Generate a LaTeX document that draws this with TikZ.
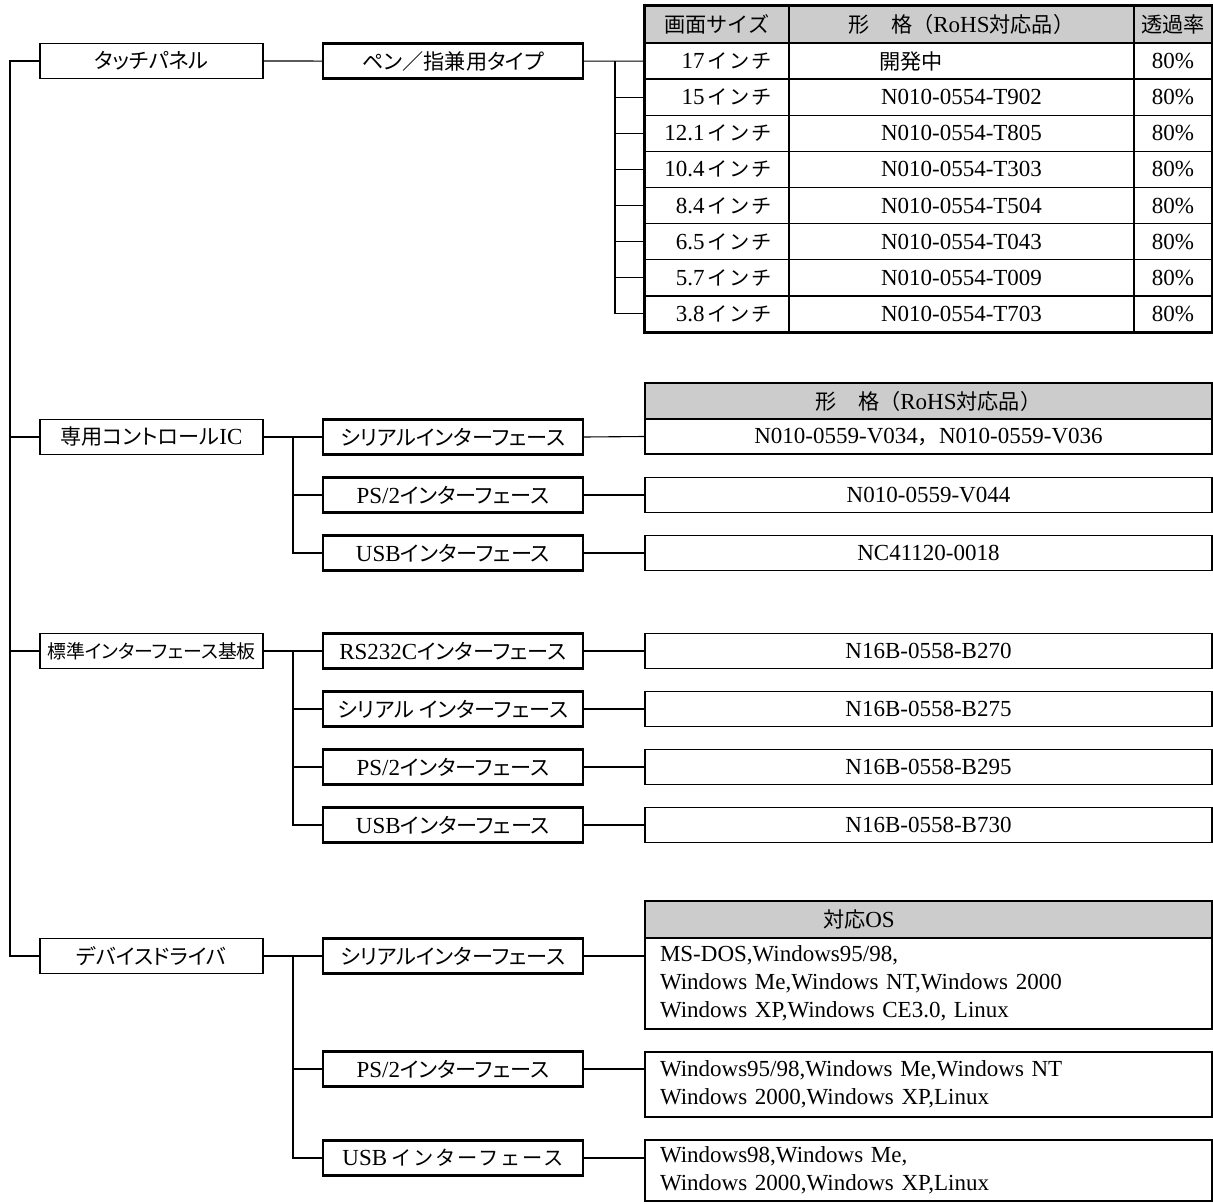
\documentclass[tikz,border=0pt]{standalone}
\usepackage{fontspec}
\setmainfont{Liberation Serif}
\newfontfamily\jp[RawFeature=+palt,Scale=0.92]{Noto Sans CJK JP}
\newfontfamily\jpf[Scale=0.92]{Noto Sans CJK JP}
\newfontfamily\jpw[Scale=0.88,LetterSpace=9]{Noto Sans CJK JP}
\newcommand{\J}[1]{{\jp #1}}
\newcommand{\JF}[1]{{\jpf #1}}
\newcommand{\JW}[1]{{\jpw #1}}
\definecolor{hdrgray}{RGB}{204,204,204}
\begin{document}
\begin{tikzpicture}[x=1pt,y=-1pt,
  every node/.style={font=\fontsize{23}{28}\selectfont},
  boxA/.style={draw, line width=1.1pt, minimum width=223pt, minimum height=35pt, inner sep=0pt},
  boxB/.style={draw, line width=2.4pt, minimum width=260pt, minimum height=35pt, inner sep=0pt},
  tcell/.style={draw, line width=1.3pt, inner sep=0pt},
  hdr/.style={draw, line width=1.8pt, fill=hdrgray, inner sep=0pt},
  outbox/.style={draw, line width=1.8pt, minimum width=567pt, minimum height=35pt, inner sep=0pt},
  osbox/.style={draw, line width=1.8pt, minimum width=567pt, text width=537pt, inner xsep=15pt, inner ysep=0pt, align=left},
  conn/.style={line width=1.1pt}]
\useasboundingbox (0,0) rectangle (1213,1204);

% level 1
\node[boxA] (tp)  at (151.5,61)  {\J{タッチパネル}};
\node[boxA] (ic)  at (151.5,437) {\J{専用コントロール}IC};
\node[boxA, font=\fontsize{20.5}{24}\selectfont] (std) at (151.5,651) {\J{標準インターフェース基板}};
\node[boxA] (dd)  at (151.5,956) {\J{デバイスドライバ}};

% level 2
\node[boxB] (pen) at (453,61.06) {\J{ペン／指兼用タイプ}};
\node[boxB] (ic1) at (453,437) {\J{シリアルインターフェース}};
\node[boxB] (ic2) at (453,495) {PS/2\J{インターフェース}};
\node[boxB] (ic3) at (453,553) {USB\J{インターフェース}};
\node[boxB] (s1) at (453,651) {RS232C\J{インターフェース}};
\node[boxB] (s2) at (453,709) {\J{シリアル インターフェース}};
\node[boxB] (s3) at (453,767) {PS/2\J{インターフェース}};
\node[boxB] (s4) at (453,825) {USB\J{インターフェース}};
\node[boxB] (d1) at (453,956) {\J{シリアルインターフェース}};
\node[boxB] (d2) at (453,1069) {PS/2\J{インターフェース}};
\node[boxB] (d3) at (453,1158) {USB\hspace{4pt}\JW{インターフェース}};

% table 1
\node[hdr, minimum width=144pt, minimum height=37pt] (h1) at (717,24.5) {\JF{画面サイズ}};
\node[hdr, minimum width=345pt, minimum height=37pt] (h2) at (961.5,24.5) {\JF{形　格（}RoHS\JF{対応品）}};
\node[hdr, minimum width=78pt, minimum height=37pt] (h3) at (1173,24.5) {\JF{透過率}};
\foreach \i/\sz in {1/17,2/15,3/12.1,4/10.4,5/8.4,6/6.5,7/5.7,8/3.8}{
  \pgfmathsetmacro\yy{43+(\i-0.5)*36.125}
  \node[tcell, minimum width=144pt, minimum height=36.125pt, text width=110pt, inner xsep=17pt, align=right] (a\i) at (717,\yy) {\sz\hspace{3pt}\JW{インチ}};
  \node[tcell, minimum width=78pt, minimum height=36.125pt] (c\i) at (1173,\yy) {80\%};
}
\node[tcell, minimum width=345pt, minimum height=36.125pt, text width=165pt, inner xsep=90pt, align=left] (b1) at (961.5,61.06) {\JF{開発中}};
\foreach \i/\code in {2/T902,3/T805,4/T303,5/T504,6/T043,7/T009,8/T703}{
  \pgfmathsetmacro\yy{43+(\i-0.5)*36.125}
  \node[tcell, minimum width=345pt, minimum height=36.125pt] (b\i) at (961.5,\yy) {N010-0554-\code};
}
\draw[line width=2pt] (h1.north west) rectangle (c8.south east);

% table 2
\node[hdr, minimum width=567pt, minimum height=36pt] (kh) at (928.5,401) {\JF{形　格（}RoHS\JF{対応品）}};
\node[outbox] (k1) at (928.5,436.5) {N010-0559-V034\JF{，}N010-0559-V036};
\node[outbox] (k2) at (928.5,495) {N010-0559-V044};
\node[outbox] (k3) at (928.5,553) {NC41120-0018};

\node[outbox] (o1) at (928.5,651) {N16B-0558-B270};
\node[outbox] (o2) at (928.5,709) {N16B-0558-B275};
\node[outbox] (o3) at (928.5,767) {N16B-0558-B295};
\node[outbox] (o4) at (928.5,825) {N16B-0558-B730};

\node[hdr, minimum width=567pt, minimum height=37pt, text width=211pt, inner xsep=178pt, align=left] (osh) at (928.5,919.5) {\JF{対応}OS};
\node[osbox, minimum height=91pt] (os1) at (928.5,983.5) {MS-DOS,Windows95/98,\\Windows Me,Windows NT,Windows 2000\\Windows XP,Windows CE3.0, Linux};
\node[osbox, minimum height=65pt] (os2) at (928.5,1084.5) {Windows95/98,Windows Me,Windows NT\\Windows 2000,Windows XP,Linux};
\node[osbox, minimum height=61pt] (os3) at (928.5,1170.5) {Windows98,Windows Me,\\Windows 2000,Windows XP,Linux};

% connectors: trunk
\coordinate (tr) at (10,61);
\draw[conn] (tp.west) -- (tr) |- (dd.west);
\draw[conn] (tr |- ic.west) -- (ic.west);
\draw[conn] (tr |- std.west) -- (std.west);

% level1 -> level2
\draw[conn] (tp.east) -- (pen.west);
\coordinate (bi) at (293,437);
\draw[conn] (ic.east) -- (ic1.west);
\draw[conn] (bi) |- (ic3.west);
\draw[conn] (bi |- ic2.west) -- (ic2.west);
\coordinate (bs) at (293,651);
\draw[conn] (std.east) -- (s1.west);
\draw[conn] (bs) |- (s4.west);
\draw[conn] (bs |- s2.west) -- (s2.west);
\draw[conn] (bs |- s3.west) -- (s3.west);
\coordinate (bd) at (293,956);
\draw[conn] (dd.east) -- (d1.west);
\draw[conn] (bd) |- (d3.west);
\draw[conn] (bd |- d2.west) -- (d2.west);

% level2 -> tables
\coordinate (tb) at (615,61.06);
\draw[conn] (pen.east) -- (a1.west);
\draw[conn] (tb) |- (a8.west);
\foreach \i in {2,...,7}{\draw[conn] (tb |- a\i.west) -- (a\i.west);}
\draw[conn] (ic1.east) -- (k1.west);
\draw[conn] (ic2.east) -- (k2.west);
\draw[conn] (ic3.east) -- (k3.west);
\draw[conn] (s1.east) -- (o1.west);
\draw[conn] (s2.east) -- (o2.west);
\draw[conn] (s3.east) -- (o3.west);
\draw[conn] (s4.east) -- (o4.west);
\draw[conn] (d1.east) -- (d1.east -| os1.west);
\draw[conn] (d2.east) -- (d2.east -| os2.west);
\draw[conn] (d3.east) -- (d3.east -| os3.west);
\end{tikzpicture}
\end{document}
